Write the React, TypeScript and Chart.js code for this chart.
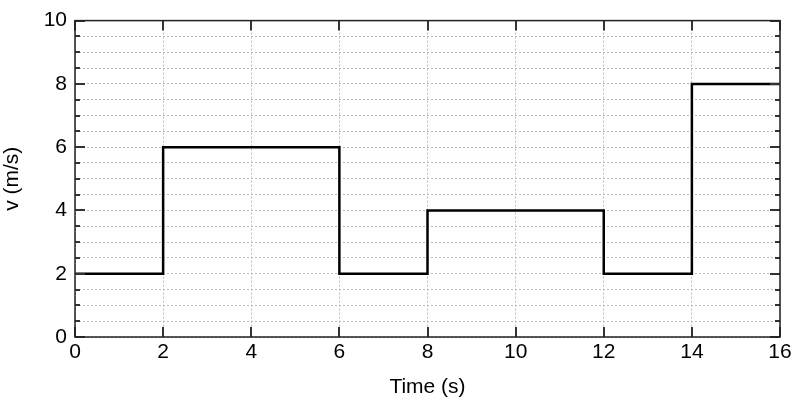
import React, { useEffect, useRef } from "react";
import { Chart, registerables } from "chart.js";

Chart.register(...registerables);

const timeValues = [0, 2, 6, 8, 12, 14, 16];
const velocityValues = [2, 6, 2, 4, 2, 8, 8];
const xMajorTicks = [0, 2, 4, 6, 8, 10, 12, 14, 16];
const yMajorTicks = [0, 2, 4, 6, 8, 10];
const yMinorStep = 0.5;

const FONT = "Liberation Sans, Arial, Helvetica, sans-serif";

const frameTicksPlugin = {
  id: "frameTicks",
  afterDatasetsDraw(chart: any) {
    const { ctx, chartArea, scales } = chart;
    const { left, right, top, bottom } = chartArea;
    const xs = scales.x;
    const ys = scales.y;
    ctx.save();
    ctx.strokeStyle = "#333";
    ctx.lineWidth = 2;
    // y ticks
    for (let v = 0; v <= 10 + 1e-9; v += yMinorStep) {
      const y = Math.round(ys.getPixelForValue(v)) + 0.0;
      const major = yMajorTicks.includes(Math.round(v * 100) / 100);
      const len = major ? 10 : 5;
      ctx.beginPath();
      ctx.moveTo(left, y);
      ctx.lineTo(left + len, y);
      ctx.moveTo(right, y);
      ctx.lineTo(right - len, y);
      ctx.stroke();
    }
    for (const v of xMajorTicks) {
      const x = Math.round(xs.getPixelForValue(v));
      ctx.beginPath();
      ctx.moveTo(x, bottom);
      ctx.lineTo(x, bottom - 10);
      ctx.moveTo(x, top);
      ctx.lineTo(x, top + 10);
      ctx.stroke();
    }
    ctx.strokeStyle = "#222";
    ctx.lineWidth = 1.5;
    ctx.strokeRect(left, top, right - left, bottom - top);
    ctx.restore();
  },
};

export default function App() {
  const ref = useRef<HTMLCanvasElement>(null);
  useEffect(() => {
    const canvas = ref.current;
    if (!canvas) return;
    const chart = new Chart(canvas, {
      type: "line",
      data: {
        datasets: [
          {
            data: timeValues.map((t, i) => ({ x: t, y: velocityValues[i] })),
            borderColor: "#000",
            borderWidth: 2.5,
            pointRadius: 0,
            stepped: "before",
            fill: false,
            clip: false as any,
          },
        ],
      },
      options: {
        animation: false,
        responsive: false,
        maintainAspectRatio: false,
        layout: { padding: { top: 20, right: 20, left: 0, bottom: 0 } },
        plugins: {
          legend: { display: false },
          tooltip: { enabled: false },
        },
        scales: {
          x: {
            type: "linear",
            min: 0,
            max: 16,
            afterBuildTicks: (scale: any) => {
              scale.ticks = xMajorTicks.map((v) => ({ value: v }));
            },
            afterFit: (scale: any) => {
              scale.height = 63;
            },
            ticks: {
              color: "#000",
              font: { family: FONT, size: 21 },
              padding: 3,
              maxRotation: 0,
            },
            grid: {
              color: "#bbb",
              lineWidth: 1,
              drawTicks: false,
            },
            border: { display: false, dash: [2, 2] },
            title: {
              display: true,
              text: "Time (s)",
              color: "#000",
              font: { family: FONT, size: 21 },
              padding: { top: 4, bottom: 0 },
            },
          },
          y: {
            type: "linear",
            min: 0,
            max: 10,
            afterBuildTicks: (scale: any) => {
              const t: any[] = [];
              for (let v = 0; v <= 10 + 1e-9; v += yMinorStep) t.push({ value: Math.round(v * 100) / 100 });
              scale.ticks = t;
            },
            afterFit: (scale: any) => {
              scale.width = 75;
            },
            ticks: {
              color: "#000",
              font: { family: FONT, size: 21 },
              padding: 8,
              autoSkip: false,
              callback: (v: any) => (yMajorTicks.includes(Number(v)) ? String(v) : ""),
            },
            grid: {
              color: "#bbb",
              lineWidth: 1,
              drawTicks: false,
            },
            border: { display: false, dash: [2, 2] },
            title: {
              display: true,
              text: "v (m/s)",
              color: "#000",
              font: { family: FONT, size: 21 },
              padding: { top: 0, bottom: 4 },
            },
          },
        },
      },
      plugins: [frameTicksPlugin],
    });
    return () => chart.destroy();
  }, []);
  return (
    <div style={{ position: "fixed", left: 0, top: 0, width: 800, height: 400, background: "#fff" }}>
      <canvas ref={ref} width={800} height={400} style={{ display: "block", width: 800, height: 400 }} />
    </div>
  );
}
